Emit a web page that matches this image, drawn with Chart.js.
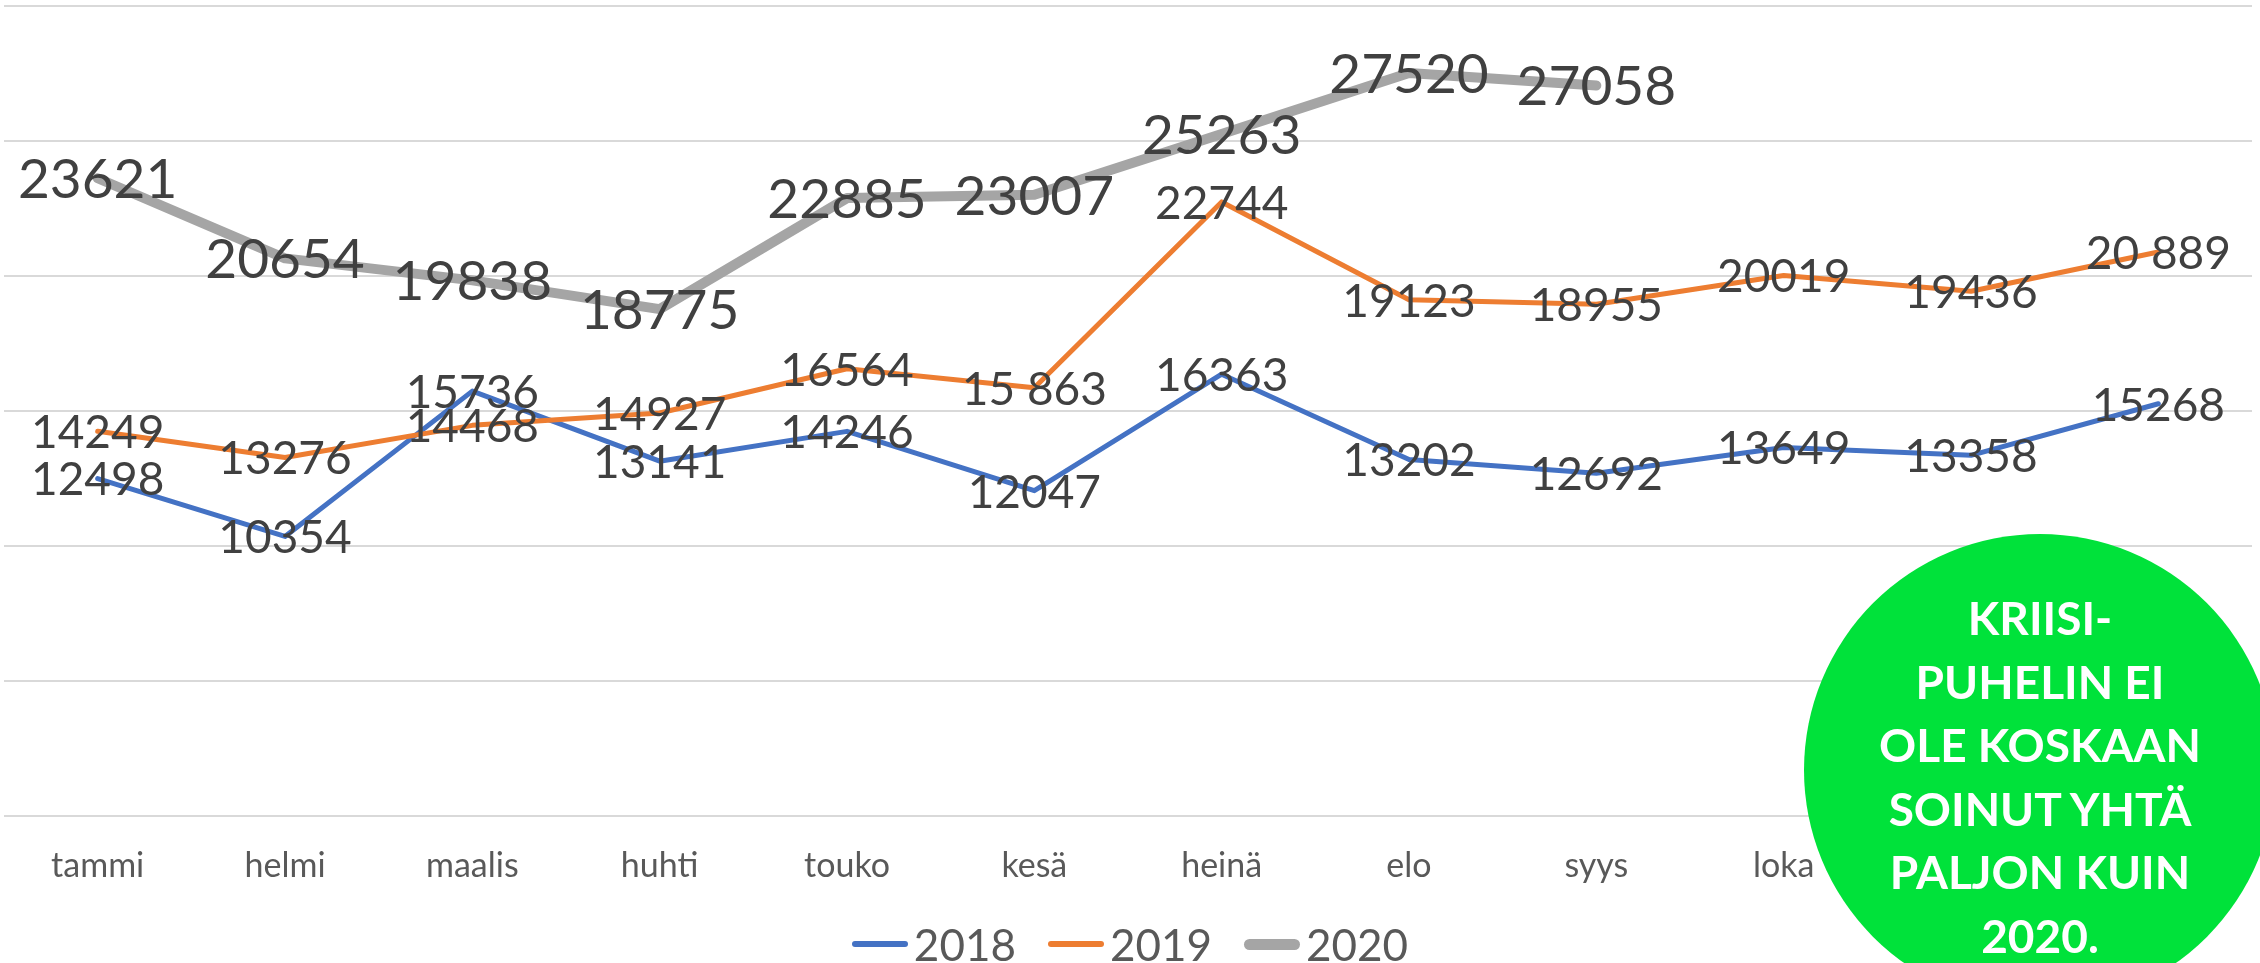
<!DOCTYPE html>
<html>
<head>
<meta charset="utf-8">
<script src="https://cdn.jsdelivr.net/npm/chart.js@4.4.1/dist/chart.umd.min.js"></script>
<style>
    html, body { margin: 0; padding: 0; background: #fff; overflow: hidden; }
    #wrap { position: relative; width: 2260px; height: 963px; overflow: hidden; }
    #chart { position: absolute; left: 0; top: 0; }
    #legend {
        position: absolute; left: 0; top: 916px; width: 2260px; height: 56px;
        display: flex; justify-content: center; align-items: center;
        font-family: Lato, sans-serif; font-size: 44px; color: #595959;
    }
    #legend .item { display: flex; align-items: center; margin: 0 16px; }
    #legend .swatch { width: 56px; border-radius: 6px; margin-right: 6px; }
    #badge {
        position: absolute; left: 1804px; top: 534px; width: 472px; height: 472px;
        border-radius: 50%; background: rgb(0, 226, 58);
        color: #fff; font-family: Lato, sans-serif; font-weight: bold; font-size: 46px;
        text-align: center; line-height: 63.5px; box-sizing: border-box; padding-top: 52px;
    }
</style>
</head>
<body>
<div id="wrap">
    <canvas id="chart" width="2260" height="963"></canvas>
    <div id="legend"></div>
    <div id="badge">KRIISI-<br>PUHELIN EI<br>OLE KOSKAAN<br>SOINUT YHTÄ<br>PALJON KUIN<br>2020.</div>
</div>
<script>
'use strict';
// kuukaudet
const months = ['tammi', 'helmi', 'maalis', 'huhti', 'touko', 'kesä', 'heinä', 'elo', 'syys', 'loka', 'marras', 'joulu'];
const calls2018 = [12498, 10354, 15736, 13141, 14246, 12047, 16363, 13202, 12692, 13649, 13358, 15268];
const calls2019 = [14249, 13276, 14468, 14927, 16564, 15863, 22744, 19123, 18955, 20019, 19436, 20889];
const calls2020 = [23621, 20654, 19838, 18775, 22885, 23007, 25263, 27520, 27058];
// arvot jotka on kirjoitettu välilyönnillä alkuperäisessä
const spaced2019 = [5, 11];

const yMin = 0, yMax = 30000, yStep = 5000;

function fmt(v, spaced) {
    let s = String(v);
    return spaced ? s.slice(0, 2) + ' ' + s.slice(2) : s;
}

let series = [
    { label: '2018', data: calls2018, color: '#4472C4', width: 5, font: 46, legendW: 6 },
    { label: '2019', data: calls2019, color: '#ED7D31', width: 5, font: 46, legendW: 6, spaced: spaced2019 },
    { label: '2020', data: calls2020, color: '#A5A5A5', width: 10, font: 55, legendW: 11 }
];

const valueLabels = {
    id: 'valueLabels',
    afterDatasetsDraw(chart) {
        const ctx = chart.ctx;
        ctx.save();
        ctx.fillStyle = '#404040';
        ctx.textAlign = 'center';
        ctx.textBaseline = 'middle';
        chart.data.datasets.forEach(function (ds, i) {
            let meta = chart.getDatasetMeta(i);
            let s = series[i];
            ctx.font = s.font + 'px Lato';
            meta.data.forEach(function (pt, j) {
                let spaced = s.spaced && s.spaced.indexOf(j) >= 0;
                ctx.fillText(fmt(ds.data[j], spaced), pt.x, pt.y + 2);
            });
        });
        ctx.restore();
    }
};

let ctx = document.getElementById('chart');
let chart = new Chart(ctx, {
    type: 'line',
    data: {
        labels: months,
        datasets: series.map(function (s, i) {
            return {
                label: s.label,
                data: s.data,
                borderColor: s.color,
                backgroundColor: s.color,
                borderWidth: s.width,
                borderCapStyle: 'round',
                borderJoinStyle: 'round',
                pointRadius: 0,
                tension: 0,
                order: 2 - i
            };
        })
    },
    options: {
        responsive: false,
        animation: false,
        layout: { padding: { left: 4, right: 8, top: 6, bottom: 67 } },
        plugins: { legend: { display: false }, tooltip: { enabled: false } },
        scales: {
            x: {
                offset: true,
                grid: { display: false, drawTicks: false },
                border: { display: false },
                ticks: { color: '#595959', font: { family: 'Lato', size: 34 }, padding: 30, maxRotation: 0, autoSkip: false },
                afterFit: function (scale) { scale.height = 80; }
            },
            y: {
                min: yMin, max: yMax,
                ticks: { display: false, stepSize: yStep },
                grid: { color: '#D9D9D9', lineWidth: 2, drawTicks: false },
                border: { display: false },
                afterFit: function (scale) { scale.width = 0; }
            }
        }
    },
    plugins: [valueLabels]
});

// legenda
let legend = document.getElementById('legend');
series.forEach(function (s) {
    let item = document.createElement('div');
    item.className = 'item';
    let sw = document.createElement('div');
    sw.className = 'swatch';
    sw.style.height = s.legendW + 'px';
    sw.style.background = s.color;
    let txt = document.createElement('span');
    txt.textContent = s.label;
    item.appendChild(sw);
    item.appendChild(txt);
    legend.appendChild(item);
});
</script>
</body>
</html>
